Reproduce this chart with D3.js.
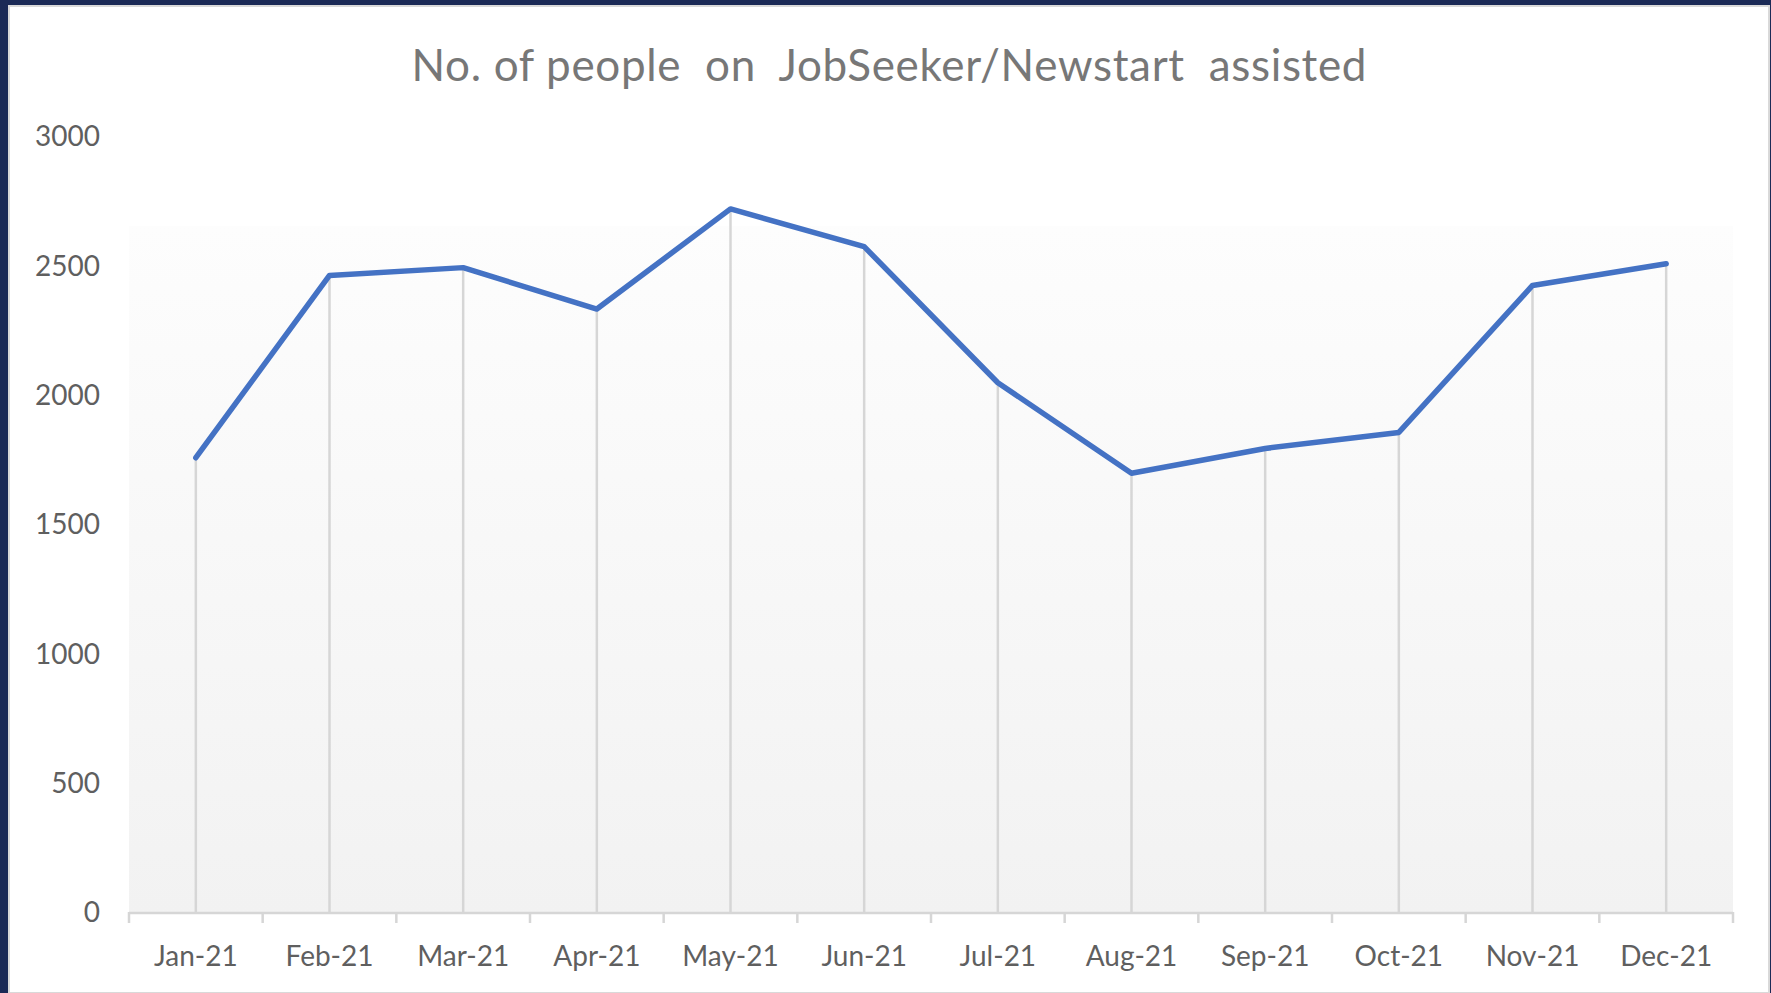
<!DOCTYPE html>
<html>
<head>
<meta charset="utf-8">
<script src="https://cdn.jsdelivr.net/npm/d3@7"></script>
<style>
  html, body { margin: 0; padding: 0; background: #1b2a56; }
  svg { display: block; }
  text { font-family: Lato, "Open Sans", sans-serif; }
</style>
</head>
<body>
<div id="chart"></div>
<script>
// chart data
const months = ["Jan-21", "Feb-21", "Mar-21", "Apr-21", "May-21", "Jun-21",
                "Jul-21", "Aug-21", "Sep-21", "Oct-21", "Nov-21", "Dec-21"];
const people = [1760, 2465, 2495, 2335, 2722, 2576, 2050, 1700, 1796, 1858, 2426, 2510];
const yTicks = [0, 500, 1000, 1500, 2000, 2500, 3000];
const title = "No. of people  on  JobSeeker/Newstart  assisted";

const W = 1771, H = 993;
const plot = { left: 129, right: 1733, top: 226, bottom: 913 };

const svg = d3.select("#chart").append("svg")
  .attr("width", W).attr("height", H);

// dark frame + white chart panel
svg.append("rect").attr("width", W).attr("height", H).attr("fill", "#1b2a56");
svg.append("rect")
  .attr("x", 9).attr("y", 6).attr("width", W - 11).attr("height", H - 6)
  .attr("fill", "#fff").attr("stroke", "#d9d9d9").attr("stroke-width", 2);

const defs = svg.append("defs");
const grad = defs.append("linearGradient").attr("id", "pa")
  .attr("x1", 0).attr("y1", 0).attr("x2", 0).attr("y2", 1);
grad.append("stop").attr("offset", "0%").attr("stop-color", "#fdfdfd");
grad.append("stop").attr("offset", "100%").attr("stop-color", "#f2f2f2");

const x = d3.scaleBand().domain(months).range([plot.left, plot.right]).padding(0);
const y = d3.scaleLinear().domain([0, 3000]).range([913, 137]);
const cx = m => x(m) + x.bandwidth() / 2;

// plot area
svg.append("rect")
  .attr("x", plot.left).attr("y", plot.top)
  .attr("width", plot.right - plot.left).attr("height", plot.bottom - plot.top)
  .attr("fill", "url(#pa)");

// title
svg.append("text")
  .attr("x", 889).attr("y", 81)
  .attr("text-anchor", "middle")
  .attr("font-size", 44)
  .attr("fill", "#777")
  .attr("textLength", 955).attr("lengthAdjust", "spacing")
  .style("white-space", "pre")
  .text(title);

// y axis labels (no line)
const yAxis = svg.append("g")
  .attr("transform", `translate(${plot.left - 29},0)`)
  .call(d3.axisLeft(y).tickValues(yTicks).tickSize(0).tickPadding(0).tickFormat(d3.format("d")));
yAxis.select(".domain").remove();
yAxis.selectAll("text")
  .attr("font-size", 28).attr("fill", "#5f5f5f")
  .style("font-family", "Lato, 'Open Sans', sans-serif");

// drop lines
svg.append("g").selectAll("line")
  .data(months)
  .join("line")
  .attr("x1", d => cx(d)).attr("x2", d => cx(d))
  .attr("y1", (d, i) => y(people[i])).attr("y2", y(0))
  .attr("stroke", "#d6d6d6").attr("stroke-width", 2.5);

// x axis
const xAxis = svg.append("g")
  .attr("transform", `translate(0,${y(0)})`)
  .call(d3.axisBottom(x).tickSize(0).tickPadding(33));
xAxis.select(".domain").remove();
xAxis.selectAll("text")
  .attr("font-size", 28).attr("fill", "#5f5f5f")
  .style("font-family", "Lato, 'Open Sans', sans-serif");

xAxis.append("line")
  .attr("x1", plot.left).attr("x2", plot.right)
  .attr("stroke", "#d6d6d6").attr("stroke-width", 2.5);
const edges = months.map(m => x(m)).concat([x(months[months.length - 1]) + x.bandwidth()]);
xAxis.selectAll(".edge")
  .data(edges)
  .join("line")
  .attr("class", "edge")
  .attr("x1", d => d).attr("x2", d => d)
  .attr("y1", -1).attr("y2", 10)
  .attr("stroke", "#d6d6d6").attr("stroke-width", 2.5);

// the line
const line = d3.line()
  .x((d, i) => cx(months[i]))
  .y(d => y(d));
svg.append("path")
  .datum(people)
  .attr("d", line)
  .attr("fill", "none")
  .attr("stroke", "#4472c4")
  .attr("stroke-width", 5.5)
  .attr("stroke-linejoin", "round")
  .attr("stroke-linecap", "round");
</script>
</body>
</html>
